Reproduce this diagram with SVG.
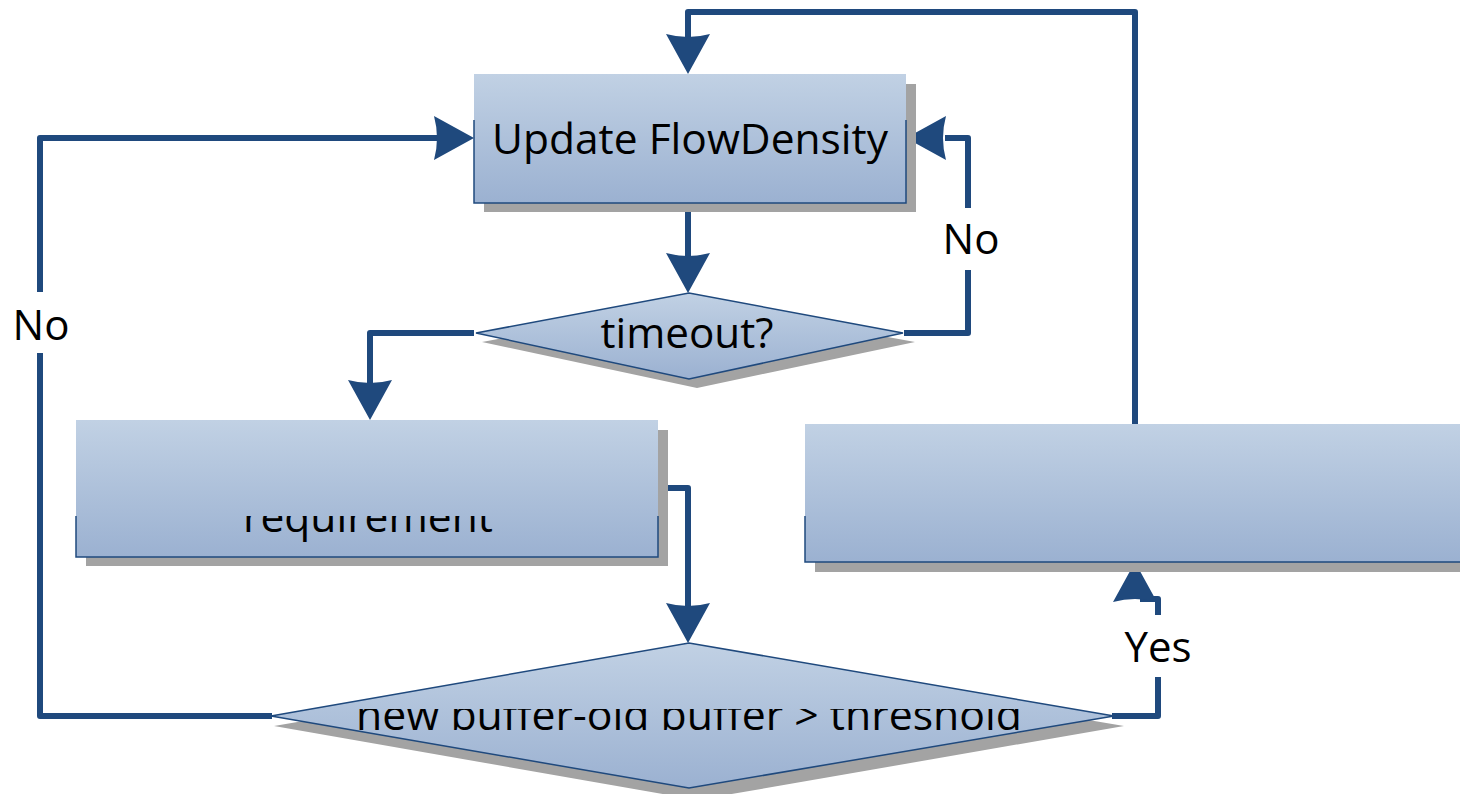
<svg xmlns="http://www.w3.org/2000/svg" width="1460" height="794" viewBox="0 0 1460 794">
  <style>
    .shadow { fill: #a3a3a3; }
    .box { fill: url(#boxFill); }
    .edge { fill: none; stroke: #1f497d; stroke-width: 1.5; }
    .dia { fill: url(#boxFill); stroke: #1f497d; stroke-width: 1.5; stroke-linejoin: miter; }
    .lbl { font-family: "Open Sans", "Noto Sans", sans-serif; font-size: 42px; fill: #000; text-anchor: middle; }
    .wire { fill: none; stroke: #1f497d; stroke-width: 6; stroke-linejoin: round; }
    .head { fill: #1f497d; }
  </style>
  <defs>
    <linearGradient id="boxFill" x1="0" y1="0" x2="0" y2="1">
      <stop offset="0" stop-color="#c1d1e4"/>
      <stop offset="1" stop-color="#9bb1d1"/>
    </linearGradient>
    <!-- stealth arrowhead, tip at origin, pointing down -->
    <path id="ah" d="M0,0 L-22,-40 Q0,-34 22,-40 Z"/>
    <clipPath id="clipReq"><rect x="76" y="516" width="582" height="40"/></clipPath>
    <clipPath id="clipThr"><rect x="280" y="709" width="830" height="60"/></clipPath>
  </defs>

  <!-- connectors -->
  <g id="connectors">
    <path class="wire" d="M1135,424 V12 H688 V40"/>
    <path class="wire" d="M272,716 H40 V353"/>
    <path class="wire" d="M40,292 V138 H440"/>
    <path class="wire" d="M688,203 V258"/>
    <path class="wire" d="M474,333 H370 V385"/>
    <path class="wire" d="M904,333 H968 V270"/>
    <path class="wire" d="M968,208 V138 H945"/>
    <path class="wire" d="M658,488 H688 V608"/>
    <path class="wire" d="M1112,716 H1158 V677"/>
    <path class="wire" d="M1158,615 V599 H1140"/>
    <use href="#ah" class="head" transform="translate(688,74)"/>
    <use href="#ah" class="head" transform="translate(474,138) rotate(-90)"/>
    <use href="#ah" class="head" transform="translate(906,138) rotate(90)"/>
    <use href="#ah" class="head" transform="translate(688,293)"/>
    <use href="#ah" class="head" transform="translate(370,420)"/>
    <use href="#ah" class="head" transform="translate(688,643)"/>
    <use href="#ah" class="head" transform="translate(1135,562) rotate(180)"/>
    <text class="lbl" x="41" y="340">No</text>
    <text class="lbl" x="971" y="254">No</text>
    <text class="lbl" x="1158" y="662">Yes</text>
  </g>

  <!-- Update FlowDensity -->
  <g id="update">
    <rect class="shadow" x="484" y="84" width="432" height="128"/>
    <rect class="box" x="474" y="74" width="432" height="129"/>
    <path class="edge" d="M474,120 V203 H906 V120"/>
    <text class="lbl" x="690" y="154" textLength="396" lengthAdjust="spacingAndGlyphs">Update FlowDensity</text>
  </g>

  <!-- timeout? -->
  <g id="timeout">
    <polygon class="shadow" points="482,342 697,302 915,342 697,388"/>
    <polygon class="dia" points="476,333 689,293 903,333 689,379"/>
    <text class="lbl" x="687" y="348" textLength="173" lengthAdjust="spacingAndGlyphs">timeout?</text>
  </g>

  <!-- requirement box -->
  <g id="requirement">
    <rect class="shadow" x="86" y="430" width="582" height="136"/>
    <rect class="box" x="76" y="420" width="582" height="137"/>
    <path class="edge" d="M76,516 V557 H658 V516"/>
    <text class="lbl" x="368" y="532" textLength="250" lengthAdjust="spacingAndGlyphs" clip-path="url(#clipReq)">requirement</text>
  </g>

  <!-- right box -->
  <g id="rightbox">
    <rect class="shadow" x="815" y="434" width="660" height="138"/>
    <rect class="box" x="805" y="424" width="660" height="138"/>
    <path class="edge" d="M805,516 V562 H1465"/>
  </g>

  <!-- threshold decision -->
  <g id="threshold">
    <polygon class="shadow" points="274,726 697,654 1124,726 697,800"/>
    <polygon class="dia" points="271,716 689,643 1114,716 689,788"/>
    <text class="lbl" x="689" y="730" textLength="666" lengthAdjust="spacingAndGlyphs" clip-path="url(#clipThr)">new buffer-old buffer &gt; threshold</text>
  </g>
</svg>
